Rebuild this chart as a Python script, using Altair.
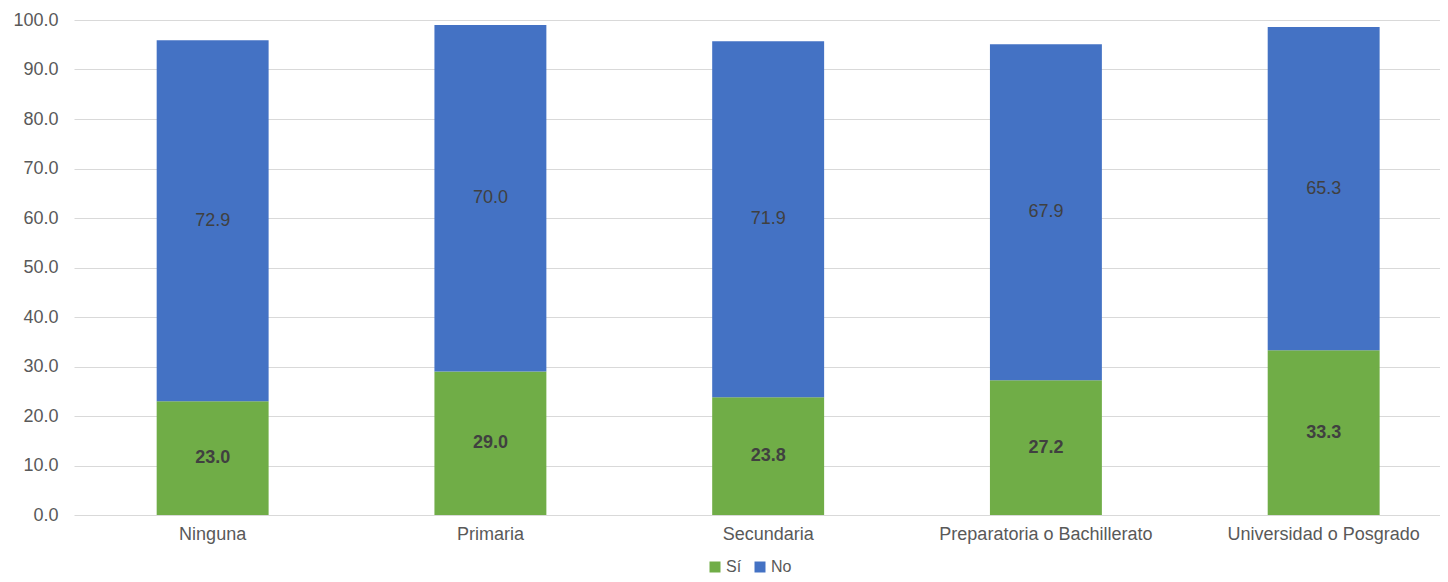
import altair as alt
import pandas as pd

categories = ["Ninguna", "Primaria", "Secundaria", "Preparatoria o Bachillerato", "Universidad o Posgrado"]
si_values = [23.0, 29.0, 23.8, 27.2, 33.3]
no_values = [72.9, 70.0, 71.9, 67.9, 65.3]
series = ["Sí", "No"]
colors = ["#70AD47", "#4472C4"]
y_ticks = [0, 10, 20, 30, 40, 50, 60, 70, 80, 90, 100]

rows = []
for i, c in enumerate(categories):
    rows.append({"cat": c, "serie": "Sí", "value": si_values[i], "ord": 0})
    rows.append({"cat": c, "serie": "No", "value": no_values[i], "ord": 1})
df = pd.DataFrame(rows)

FONT = "Liberation Sans"

x_enc = alt.X(
    "cat:N", sort=categories, title=None,
    scale=alt.Scale(paddingInner=0.597, paddingOuter=0.2575, align=0.578),
    axis=alt.Axis(labelAngle=0, labelFont=FONT, labelFontSize=18, labelColor="#595959",
                  domain=False, ticks=False, labelPadding=10, grid=False, labelLimit=0),
)
y_scale = alt.Scale(domain=[0, 100], nice=False)

base = alt.Chart(df)

bars = base.mark_bar().encode(
    x=x_enc,
    y=alt.Y("value:Q", stack="zero", scale=y_scale, title=None,
            axis=alt.Axis(values=y_ticks, format=".1f", labelFont=FONT, labelFontSize=18,
                          labelColor="#595959", domain=False, ticks=False, labelPadding=16,
                          gridColor="#D9D9D9", gridWidth=1)),
    color=alt.Color("serie:N", scale=alt.Scale(domain=series, range=colors),
                    legend=alt.Legend(title=None, orient="none", direction="horizontal",
                                      legendX=633, legendY=539, symbolType="square",
                                      symbolSize=121, symbolStrokeWidth=0, labelFont=FONT,
                                      labelFontSize=16, labelColor="#595959", labelOffset=3,
                                      columnPadding=10)),
    order=alt.Order("ord:Q"),
)

stacked = base.transform_stack(
    stack="value", groupby=["cat"], as_=["v0", "v1"], sort=[alt.SortField("ord", order="ascending")]
).transform_calculate(mid="(datum.v0 + datum.v1) / 2")

text_si = stacked.transform_filter(alt.datum.serie == "Sí").mark_text(
    font=FONT, fontSize=18, fontWeight="bold", color="#404040", baseline="middle"
).encode(x=x_enc, y=alt.Y("mid:Q", scale=y_scale), text=alt.Text("value:Q", format=".1f"))

text_no = stacked.transform_filter(alt.datum.serie == "No").mark_text(
    font=FONT, fontSize=18, color="#404040", baseline="middle"
).encode(x=x_enc, y=alt.Y("mid:Q", scale=y_scale), text=alt.Text("value:Q", format=".1f"))

chart = alt.layer(bars, text_si, text_no).properties(
    width=1366, height=495,
    padding={"left": 66, "top": 12, "right": 0, "bottom": 59},
    autosize=alt.AutoSizeParams(type="none"),
).configure_view(stroke=None)

chart.save("out.html", embed_options={"renderer": "svg", "actions": False})
